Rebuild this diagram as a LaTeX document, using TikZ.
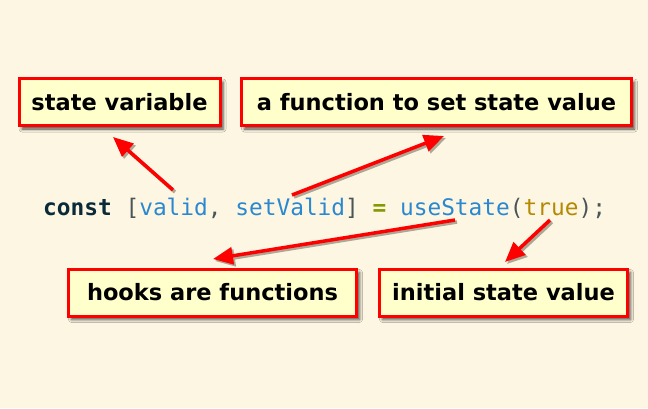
\documentclass[tikz,border=0pt]{standalone}
\usepackage{fontspec}
\setmainfont{DejaVu Sans}
\setmonofont{DejaVu Sans Mono}
\usetikzlibrary{arrows.meta,shadows.blur}
\definecolor{bg}{HTML}{FDF6E3}
\definecolor{boxfill}{HTML}{FFFFCC}
\definecolor{kw}{HTML}{0A2A38}
\definecolor{punc}{HTML}{4A5558}
\definecolor{ident}{HTML}{2A88D0}
\definecolor{op}{HTML}{859900}
\definecolor{lit}{HTML}{B58900}
\definecolor{arrshadow}{HTML}{ADA796}
\begin{document}
\begin{tikzpicture}[x=1pt,y=-1pt,
  box/.style={draw=red,line width=3pt,fill=boxfill,inner sep=0pt,minimum height=47pt,
    font=\fontsize{22.5}{27}\selectfont\bfseries,
    blur shadow={shadow xshift=3pt,shadow yshift=-3.5pt,shadow blur radius=3pt,shadow opacity=70}},
  arr/.style={draw=red,line width=3.5pt,-{Triangle[length=20pt,width=17pt]}},
  arrsh/.style={draw=arrshadow,line width=3.5pt,-{Triangle[length=20pt,width=17pt]}},
  code/.style={anchor=base west,inner sep=0pt,font=\ttfamily\fontsize{22.8}{27}\selectfont}]
\path[fill=bg,use as bounding box] (0,0) rectangle (648,408);

\node[box,minimum width=201pt] (sv) at (119.5,102) {state variable};
\node[box,minimum width=390pt] (fn) at (436.5,102) {a function to set state value};
\node[box,minimum width=288pt] (hk) at (212.5,292.5) {hooks are functions};
\node[box,minimum width=248pt] (iv) at (503.5,292.5) {initial state value};

\node[code] (line) at (43,215) {\textcolor{kw}{\bfseries const} \textcolor{punc}{[}\textcolor{ident}{valid}\textcolor{punc}{,} \textcolor{ident}{setValid}\textcolor{punc}{]} \textcolor{op}{\bfseries =} \textcolor{ident}{useState}\textcolor{punc}{(}\textcolor{lit}{true}\textcolor{punc}{);}};

\coordinate (t1) at (173,190); \coordinate (h1) at (113,137);
\coordinate (t2) at (292,195); \coordinate (h2) at (444,136);
\coordinate (t3) at (455,220); \coordinate (h3) at (213,259);
\coordinate (t4) at (550,220); \coordinate (h4) at (505,262);

\begin{scope}[transform canvas={xshift=2pt,yshift=-2pt}]
  \draw[arrsh] (t1) -- (h1);
  \draw[arrsh] (t2) -- (h2);
  \draw[arrsh] (t3) -- (h3);
  \draw[arrsh] (t4) -- (h4);
\end{scope}
\draw[arr] (t1) -- (h1);
\draw[arr] (t2) -- (h2);
\draw[arr] (t3) -- (h3);
\draw[arr] (t4) -- (h4);
\end{tikzpicture}
\end{document}
